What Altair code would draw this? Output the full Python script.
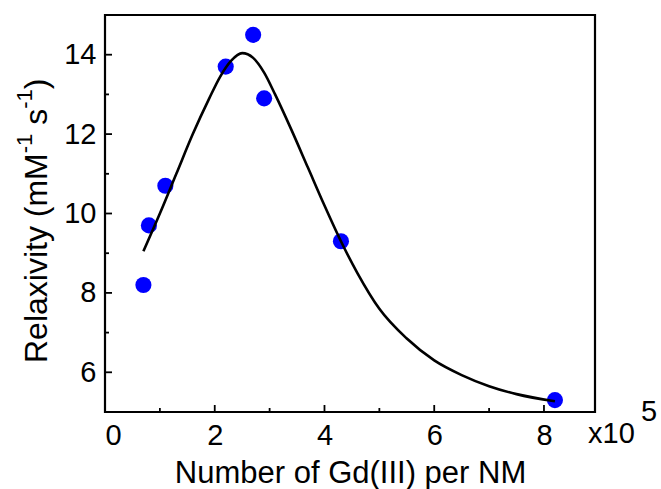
import altair as alt
import pandas as pd

# measured points
pts_x = [0.7, 0.8, 1.1, 2.2, 2.7, 2.9, 4.3, 8.2]
pts_y = [8.2, 9.7, 10.7, 13.7, 14.5, 12.9, 9.3, 5.3]

# fitted curve
fit_x = [0.7, 1.0, 1.3, 1.6, 1.9, 2.1, 2.3, 2.5, 2.7, 2.9, 3.1, 3.4, 3.7, 4.0,
         4.3, 4.6, 5.0, 5.5, 6.0, 6.5, 7.0, 7.5, 8.2]
fit_y = [9.05, 10.0, 11.0, 12.0, 12.9, 13.45, 13.85, 14.04, 13.92, 13.55, 13.0,
         12.1, 11.15, 10.2, 9.3, 8.5, 7.6, 6.85, 6.3, 5.93, 5.65, 5.45, 5.27]

x_major = [0, 2, 4, 6, 8]
x_minor = [1, 3, 5, 7]
y_major = [6, 8, 10, 12, 14]
y_minor = [7, 9, 11, 13]

# y title pieces: text, is superscript, leading space before piece
ytitle_parts = ["Relaxivity (mM", "-1", "s", "-1", ")"]
ytitle_sup = [False, True, False, True, False]
ytitle_gap = [False, False, True, False, False]

W, H = 490, 397
FONT = "Liberation Sans"

xs = alt.Scale(domain=[0, 8.93], nice=False, zero=False)
ys = alt.Scale(domain=[5, 15], nice=False, zero=False)

pts = pd.DataFrame({"x": pts_x, "y": pts_y})
fit = pd.DataFrame({"x": fit_x, "y": fit_y})

xaxis = alt.Axis(values=x_major, format="d", ticks=False, domain=False, grid=False,
                 labelFont=FONT, labelFontSize=29, labelColor="black",
                 labelPadding=9, title="Number of Gd(III) per NM",
                 titleFont=FONT, titleFontSize=31, titleFontWeight="normal",
                 titleColor="black", titleX=W / 2, titleY=70, titleAlign="center",
                 titleBaseline="alphabetic")
yaxis = alt.Axis(values=y_major, format="d", ticks=False, domain=False, grid=False,
                 labelFont=FONT, labelFontSize=29, labelColor="black",
                 labelPadding=9, title=None)

points = alt.Chart(pts).mark_circle(color="#0000FF", opacity=1, size=260).encode(
    x=alt.X("x:Q", scale=xs, axis=xaxis),
    y=alt.Y("y:Q", scale=ys, axis=yaxis),
)

line = alt.Chart(fit).mark_line(color="black", strokeWidth=2.6,
                                interpolate="monotone").encode(
    x=alt.X("x:Q", scale=xs),
    y=alt.Y("y:Q", scale=ys),
)

ytmaj = alt.Chart(pd.DataFrame({"v": y_major})).mark_rule(color="black", strokeWidth=1.8).encode(
    y=alt.Y("v:Q", scale=ys), x=alt.value(0), x2=alt.value(7))
ytmin = alt.Chart(pd.DataFrame({"v": y_minor})).mark_rule(color="black", strokeWidth=1.8).encode(
    y=alt.Y("v:Q", scale=ys), x=alt.value(0), x2=alt.value(4))
xtmaj = alt.Chart(pd.DataFrame({"v": x_major})).mark_rule(color="black", strokeWidth=1.8).encode(
    x=alt.X("v:Q", scale=xs), y=alt.value(H), y2=alt.value(H - 7))
xtmin = alt.Chart(pd.DataFrame({"v": x_minor})).mark_rule(color="black", strokeWidth=1.8).encode(
    x=alt.X("v:Q", scale=xs), y=alt.value(H), y2=alt.value(H - 4))

mult = alt.Chart(pd.DataFrame({"t": ["x10"]})).mark_text(
    font=FONT, fontSize=29, align="left", baseline="alphabetic", color="black").encode(
    text="t:N", x=alt.value(483), y=alt.value(428))
expo = alt.Chart(pd.DataFrame({"t": ["5"]})).mark_text(
    font=FONT, fontSize=29, align="left", baseline="alphabetic", color="black").encode(
    text="t:N", x=alt.value(536), y=alt.value(406))

# rotated y title built piecewise so the exponents are raised
MAIN_FS, SUP_FS = 32, 22
ARIAL_W = {"R": .722, "e": .556, "l": .222, "a": .556, "x": .5, "i": .222, "v": .5,
           "t": .278, "y": .5, " ": .278, "(": .333, ")": .333, "m": .833, "M": .833,
           "-": .333, "1": .556, "s": .5}
title_layers = []
pos = 348.0  # baseline start (bottom of rotated text), plot coordinates
for part, sup, gap in zip(ytitle_parts, ytitle_sup, ytitle_gap):
    fs = SUP_FS if sup else MAIN_FS
    if gap:
        pos -= ARIAL_W[" "] * fs
    xpos = -73 if sup else -58
    title_layers.append(
        alt.Chart(pd.DataFrame({"t": [part]})).mark_text(
            font=FONT, fontSize=fs, angle=270, align="left", baseline="alphabetic",
            color="black").encode(text="t:N", x=alt.value(xpos), y=alt.value(pos))
    )
    pos -= sum(ARIAL_W.get(c, .556) for c in part) * fs

chart = alt.layer(points, line, ytmaj, ytmin, xtmaj, xtmin, mult, expo,
                  *title_layers).properties(
    width=W, height=H,
    autosize=alt.AutoSizeParams(type="none"),
    padding={"left": 105, "top": 15, "right": 66, "bottom": 77},
    background="white",
).configure_view(stroke="black", strokeWidth=2.2)

chart.save("out.html", embed_options={"renderer": "svg", "actions": False})
